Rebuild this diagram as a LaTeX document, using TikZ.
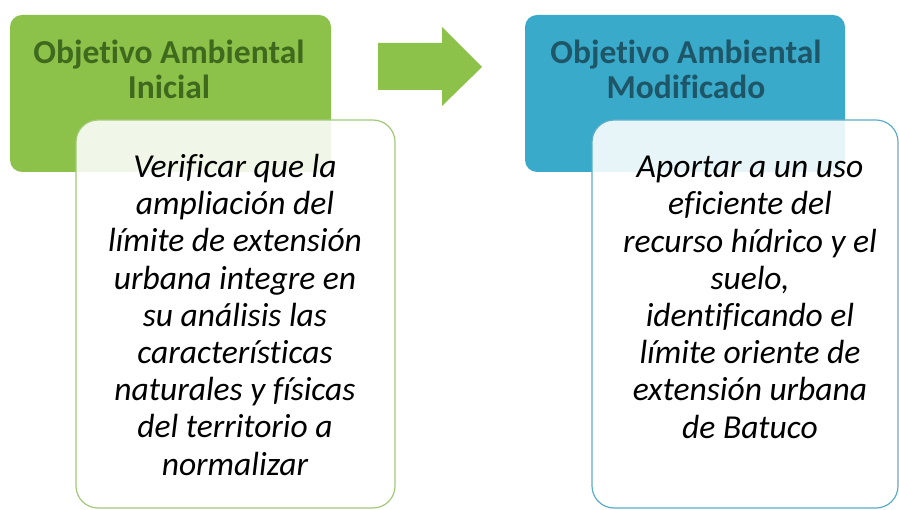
\documentclass[tikz,border=0pt]{standalone}
\usepackage{fontspec}
\setmainfont[Ligatures=NoCommon]{Carlito}
\definecolor{gfill}{HTML}{8CC14A}
\definecolor{gtext}{HTML}{3F6A1E}
\definecolor{gline}{HTML}{A3C978}
\definecolor{bfill}{HTML}{3AAACB}
\definecolor{btext}{HTML}{1E5668}
\definecolor{bline}{HTML}{5AADC8}
\begin{document}
\begin{tikzpicture}[x=1pt,y=-1pt,
  headbox/.style={rounded corners=12pt},
  bodybox/.style={rounded corners=22pt, fill=white, fill opacity=0.88, draw opacity=1, line width=1.2pt},
  titletext/.style={font=\fontsize{33.5}{35}\selectfont\bfseries, align=center, anchor=north, inner sep=0pt},
  bodytext/.style={font=\fontsize{33.5}{37.2}\selectfont\itshape, align=center, anchor=north, inner sep=0pt, text=black}]
\useasboundingbox (0,0) rectangle (899,510);
% left
\fill[gfill, headbox] (10,15) rectangle (331,172);
\node[titletext, text=gtext] (t1) at (169,40) {Objetivo Ambiental\\Inicial};
\draw[bodybox, draw=gline] (76,120) rectangle (395,508);
\node[bodytext] (b1) at (235,154) {Verificar que la\\ampliación del\\límite de extensión\\urbana integre en\\su análisis las\\características\\naturales y físicas\\del territorio a\\normalizar};
% arrow
\fill[gfill] (378,43) -- (442,43) -- (442,27) -- (482,67) -- (442,106) -- (442,90) -- (378,90) -- cycle;
% right
\fill[bfill, headbox] (525,15) rectangle (845,172);
\node[titletext, text=btext] (t2) at (686,40) {Objetivo Ambiental\\Modificado};
\draw[bodybox, draw=bline] (592,120) rectangle (898,508);
\node[bodytext] (b2) at (750,156) {Aportar a un uso\\eficiente del\\recurso hídrico y el\\suelo,\\identificando el\\límite oriente de\\extensión urbana\\de Batuco};
\end{tikzpicture}
\end{document}
